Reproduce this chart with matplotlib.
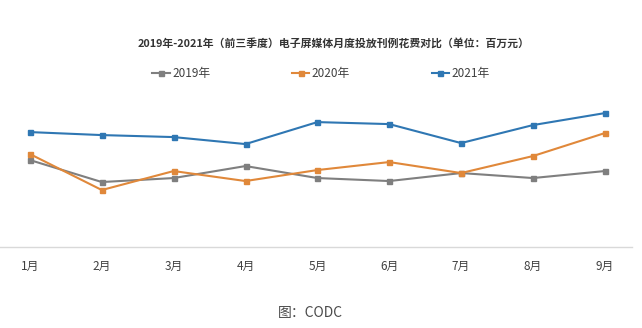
import matplotlib
matplotlib.use("Agg")
import matplotlib.pyplot as plt

plt.rcParams["font.family"] = ["Noto Sans CJK SC", "DejaVu Sans"]

months = ["1月", "2月", "3月", "4月", "5月", "6月", "7月", "8月", "9月"]
spend_2019 = [87, 65, 69, 81, 69, 66, 74, 69, 76]
spend_2020 = [93, 57, 76, 66, 77, 85, 74, 91, 114]
spend_2021 = [115, 112, 110, 103, 125, 123, 104, 122, 134]

SERIES = [
    ("2019年", spend_2019, "#7f7f7f"),
    ("2020年", spend_2020, "#e0883a"),
    ("2021年", spend_2021, "#2f77b3"),
]

fig = plt.figure(figsize=(6.42, 3.28), dpi=100)
ax = fig.add_axes([0.0, 0.247, 0.984, 0.463])

x = list(range(len(months)))
for label, values, color in SERIES:
    ax.plot(x, values, color=color, lw=1.5, marker="s", markersize=3.6,
            label=label)

ax.set_xlim(-0.417, 8.375)
ax.set_ylim(0, 152)
ax.set_xticks(x)
ax.set_xticklabels(months, fontsize=8.5, color="#404040")
ax.tick_params(axis="x", length=0, pad=9)
ax.set_yticks([])
for side in ["top", "right", "left"]:
    ax.spines[side].set_visible(False)
ax.spines["bottom"].set_color("#d9d9d9")
ax.spines["bottom"].set_linewidth(1.0)

fig.text(0.519, 0.868, "2019年-2021年（前三季度）电子屏媒体月度投放刊例花费对比（单位：百万元）",
         ha="center", va="center", fontsize=7.8, fontweight="bold", color="#333333")

fig.legend(loc="center", bbox_to_anchor=(0.5, 0.777), ncol=3, frameon=False,
           fontsize=8.5, handlelength=1.5, handletextpad=0.2, columnspacing=6.9,
           labelcolor="#404040")

fig.text(0.483, 0.045, "图：CODC", ha="center", va="center", fontsize=10,
         color="#4a4a4a")

fig.savefig("out.png", dpi=100)
